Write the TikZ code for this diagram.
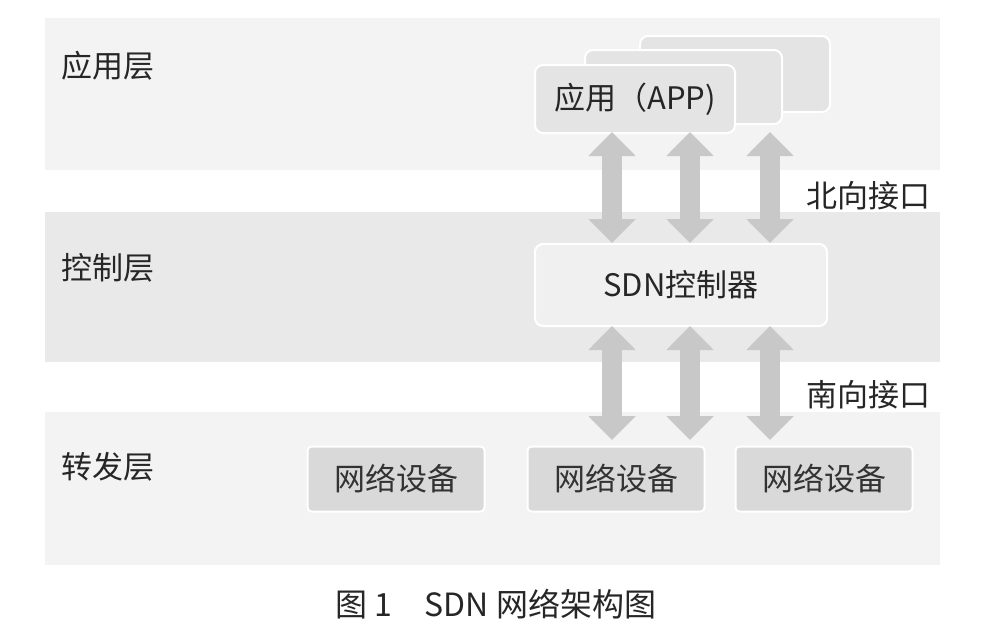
\documentclass[tikz,border=0pt]{standalone}
\usepackage{fontspec}
\newfontfamily\cjk{Noto Sans CJK SC}
\usetikzlibrary{arrows.meta}
\definecolor{bandA}{HTML}{F3F3F3}
\definecolor{bandB}{HTML}{E9E9E9}
\definecolor{appc}{HTML}{E4E4E4}
\definecolor{devc}{HTML}{D9D9D9}
\definecolor{arr}{HTML}{C8C8C8}
\tikzset{
 band/.style={fill=#1,draw=none},
 appbox/.style={fill=appc,draw=white,line width=2pt,rounded corners=8pt},
 devbox/.style={fill=devc,draw=white,line width=2pt,rounded corners=4pt,minimum width=177pt,minimum height=65pt,font=\cjk\fontsize{31}{33}\selectfont,text=black!80},
 lab/.style={font=\cjk\fontsize{31}{33}\selectfont,text=black!85},
 darr/.style={draw=arr,line width=20pt,{Triangle[width=46pt,length=24pt]}-{Triangle[width=46pt,length=24pt]}}
}
\begin{document}
\begin{tikzpicture}[x=1pt,y=-1pt]
\useasboundingbox[fill=white] (0,0) rectangle (985,633);
\fill[bandA] (45,18) rectangle (940,170);
\fill[bandB] (45,212) rectangle (940,362);
\fill[bandA] (45,412) rectangle (940,565);
\node[lab,anchor=west] (l1) at (58,66) {应用层};
\node[lab,anchor=west] (l2) at (58,268) {控制层};
\node[lab,anchor=west] (l3) at (58,467) {转发层};
\draw[appbox] (640,36) rectangle (830,112);
\draw[appbox] (585,50) rectangle (782,124);
\node[appbox,minimum width=200pt,minimum height=68pt,font=\cjk\fontsize{31}{33}\selectfont,text=black!85] (app) at (635,99) {应用（APP)};
\node[appbox,fill=bandB!70!white,minimum width=292pt,minimum height=82pt,font=\cjk\fontsize{31}{33}\selectfont,text=black!85] (ctl) at (681,285) {SDN控制器};
\node[devbox] (d1) at (396,479) {网络设备};
\node[devbox] (d2) at (616,479) {网络设备};
\node[devbox] (d3) at (824,479) {网络设备};
\foreach \x/\n in {612/a,690/b,770/c}{
 \coordinate (t\n) at (\x,132); \coordinate (m\n) at (\x,243);
 \coordinate (u\n) at (\x,326); \coordinate (b\n) at (\x,440);
 \draw[darr] (t\n) -- (m\n);
 \draw[darr] (u\n) -- (b\n);
}
\node[lab] (nb) at (868,196) {北向接口};
\node[lab] (sb) at (868,395) {南向接口};
\node[font=\cjk\fontsize{32}{34}\selectfont,text=black!85] (cap) at (496,604) {图 1\quad SDN 网络架构图};
\end{tikzpicture}
\end{document}
